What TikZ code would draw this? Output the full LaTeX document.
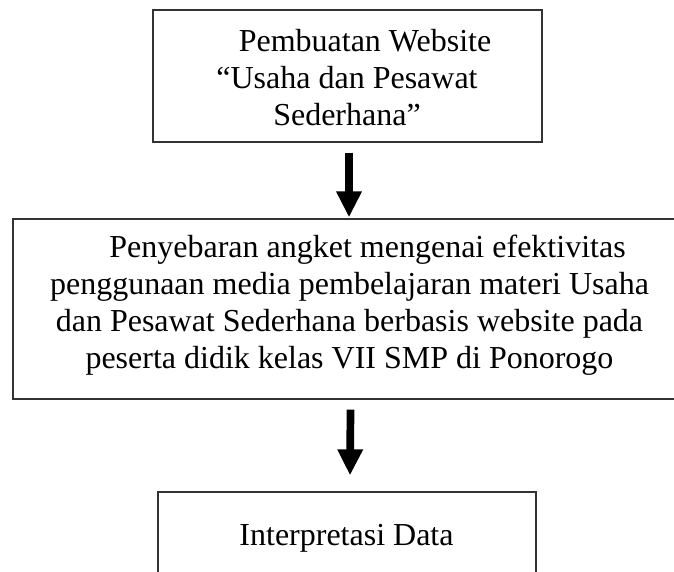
\documentclass[tikz,border=0pt]{standalone}
\usepackage{fontspec}
\setmainfont{Liberation Serif}
\usetikzlibrary{arrows.meta}
\begin{document}
\begin{tikzpicture}[x=1pt,y=-1pt,
  stepbox/.style={draw=black!80, line width=1.3pt, inner sep=0pt},
  boxtext/.style={align=center, inner sep=0pt, font=\fontsize{32}{37}\selectfont},
  flow/.style={line width=7.7pt, -{Triangle[width=24pt,length=26pt]}}]
  % page frame; boxes running past it are cut off
  \clip (0,0) rectangle (674,571);
  % boxes
  \node[stepbox, minimum width=389pt, minimum height=132pt] (b1) at (347.5,76) {};
  \node[stepbox, minimum width=669pt, minimum height=180pt] (b2) at (347.5,309) {};
  \node[stepbox, minimum width=378pt, minimum height=130pt] (b3) at (347,557) {};
  % texts (anchored at the baseline of their last line)
  \node[boxtext, anchor=base] (t1) at (347,125)
    {\hspace*{36pt}Pembuatan Website\\“Usaha dan Pesawat\\Sederhana”};
  \node[boxtext, anchor=base] (t2) at (349.5,368)
    {\hspace*{36pt}Penyebaran angket mengenai efektivitas\\
     penggunaan media pembelajaran materi Usaha\\
     dan Pesawat Sederhana berbasis website pada\\
     peserta didik kelas VII SMP di Ponorogo};
  \node[boxtext, anchor=base] (t3) at (346.5,545) {Interpretasi Data};
  % arrows
  \draw[flow] ([xshift=1.5pt,yshift=-10pt]b1.south) -- ([xshift=1.5pt,yshift=1pt]b2.north);
  \draw[flow] ([xshift=3pt,yshift=-10pt]b2.south) -- ([xshift=3pt,yshift=16pt]b3.north);
\end{tikzpicture}
\end{document}
